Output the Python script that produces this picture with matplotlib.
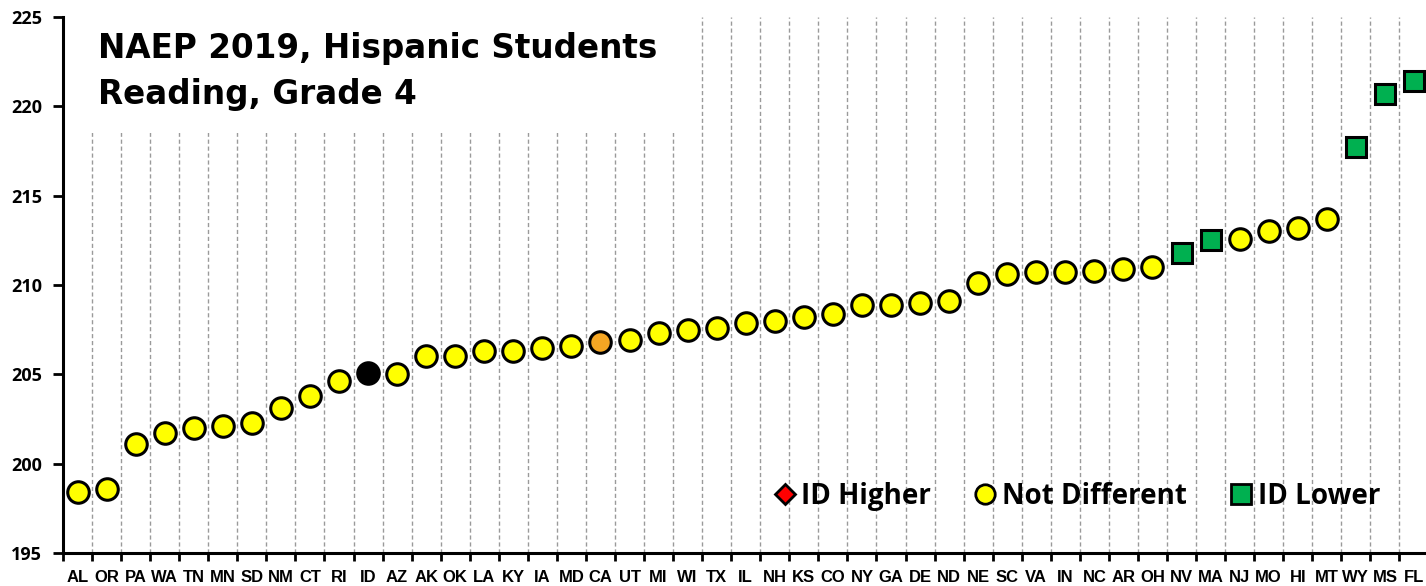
import matplotlib
matplotlib.use('Agg')
import matplotlib.pyplot as plt
from matplotlib.lines import Line2D
from matplotlib.patches import Rectangle
import numpy as np

# data
states = ['AL', 'OR', 'PA', 'WA', 'TN', 'MN', 'SD', 'NM', 'CT', 'RI', 'ID', 'AZ',
          'AK', 'OK', 'LA', 'KY', 'IA', 'MD', 'CA', 'UT', 'MI', 'WI', 'TX', 'IL',
          'NH', 'KS', 'CO', 'NY', 'GA', 'DE', 'ND', 'NE', 'SC', 'VA', 'IN', 'NC',
          'AR', 'OH', 'NV', 'MA', 'NJ', 'MO', 'HI', 'MT', 'WY', 'MS', 'FL']
scores = [198.4, 198.6, 201.1, 201.7, 202.0, 202.1, 202.3, 203.1, 203.8, 204.6,
          205.1, 205.0, 206.0, 206.0, 206.3, 206.3, 206.5, 206.6, 206.8, 206.9,
          207.3, 207.5, 207.6, 207.9, 208.0, 208.2, 208.4, 208.9, 208.9, 209.0,
          209.1, 210.1, 210.6, 210.7, 210.7, 210.8, 210.9, 211.0, 211.8, 212.5,
          212.6, 213.0, 213.2, 213.7, 217.7, 220.7, 221.4]
# 'nd' not different, 'lower' ID lower, 'id' Idaho, 'ca' highlighted
status = ['nd'] * 10 + ['id'] + ['nd'] * 7 + ['ca'] + ['nd'] * 19 + \
         ['lower', 'lower'] + ['nd'] * 4 + ['lower', 'lower', 'lower']

style = {
    'nd': dict(marker='o', color='#FFFF00', ms=15.5),
    'id': dict(marker='o', color='#000000', ms=15.5),
    'ca': dict(marker='o', color='#F5A623', ms=15.5),
    'lower': dict(marker='s', color='#00B050', ms=15),
}

fig = plt.figure(figsize=(14.26, 5.86), dpi=100)
ax = fig.add_axes([63 / 1426, 33 / 586, 1365.5 / 1426, 536 / 586])

x = np.arange(len(states))
for xi, yi, st in zip(x, scores, status):
    s = style[st]
    ax.plot(xi, yi, linestyle='none', marker=s['marker'], markersize=s['ms'],
            markerfacecolor=s['color'], markeredgecolor='black',
            markeredgewidth=2.2, zorder=5)

ax.set_xlim(-0.5, len(states) - 0.5)
ax.set_ylim(195, 225)

# dashed separators between states
bounds = np.arange(len(states) - 1) + 0.5
ax.vlines(bounds, 195, 225, colors='#9a9a9a', linestyles=(0, (3, 2)),
          linewidth=1.0, zorder=1)

# white box behind the title
ax.add_patch(Rectangle((-0.5, 218.5), 21.8, 7, facecolor='white',
                       edgecolor='none', zorder=2))
ax.text(0.7, 224.15, 'NAEP 2019, Hispanic Students\nReading, Grade 4',
        fontsize=23.5, fontweight='bold', family='DejaVu Sans',
        va='top', ha='left', linespacing=1.5, zorder=3)

# x axis: ticks at boundaries, labels at the states
ax.set_xticks(np.arange(len(states) + 1) - 0.5)
ax.set_xticklabels([])
ax.set_xticks(x, minor=True)
ax.set_xticklabels(states, minor=True, fontsize=12, fontweight='bold',
                   family=['Liberation Sans Narrow', 'Liberation Sans'])
ax.tick_params(axis='x', which='major', length=6, width=2, direction='out')
ax.tick_params(axis='x', which='minor', length=0, pad=12)

ax.set_yticks(np.arange(195, 226, 5))
ax.tick_params(axis='y', length=7, width=2, direction='out', pad=8)
for lab in ax.get_yticklabels():
    lab.set_fontweight('bold')
    lab.set_fontsize(13)
    lab.set_family('Open Sans')

for side in ['top', 'right']:
    ax.spines[side].set_visible(False)
for side in ['left', 'bottom']:
    ax.spines[side].set_linewidth(2.2)

handles = [
    Line2D([], [], linestyle='none', marker='D', markersize=10,
           markerfacecolor='#FF0000', markeredgecolor='black', markeredgewidth=2),
    Line2D([], [], linestyle='none', marker='o', markersize=14,
           markerfacecolor='#FFFF00', markeredgecolor='black', markeredgewidth=2),
    Line2D([], [], linestyle='none', marker='s', markersize=14,
           markerfacecolor='#00B050', markeredgecolor='black', markeredgewidth=2),
]
ax.legend(handles, ['ID Higher', 'Not Different', 'ID Lower'], ncol=3,
          frameon=False, loc='center left', bbox_to_anchor=(0.5, 0.105),
          prop=dict(family='Open Sans', weight='bold', size=20),
          handletextpad=0.1, columnspacing=1.45, handlelength=1.0)

fig.savefig('out.png', dpi=100)
